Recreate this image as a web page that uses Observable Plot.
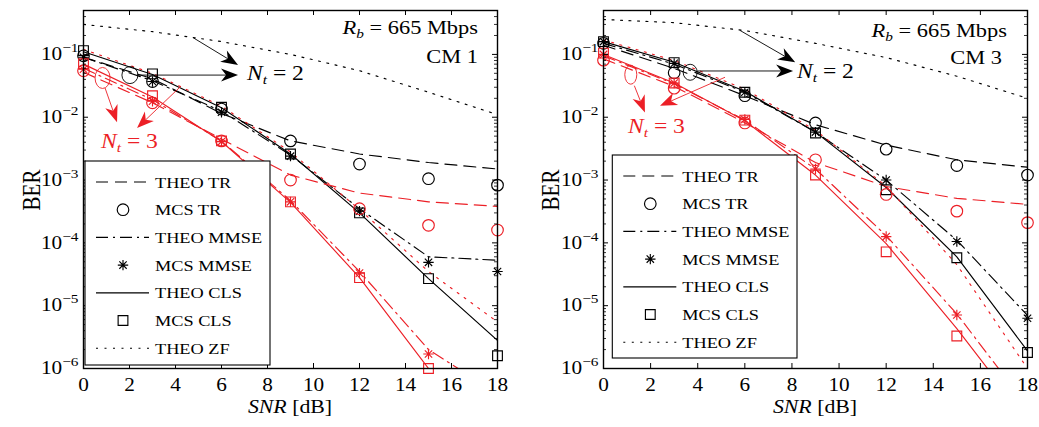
<!DOCTYPE html>
<html>
<head>
<meta charset="utf-8">
<script src="https://cdn.jsdelivr.net/npm/d3@7"></script>
<script src="https://cdn.jsdelivr.net/npm/@observablehq/plot@0.6"></script>
<style>
  body { margin: 0; background: #fff; }
  #row { display: flex; width: 1039px; height: 427px; }
  #row svg { display: block; }
</style>
</head>
<body>
<div id="row"></div>
<script>
// SNR grid of the simulated / analytical points (dB)
const snr = [0, 3, 6, 9, 12, 15, 18];
const xTicks = [0, 2, 4, 6, 8, 10, 12, 14, 16, 18];
const yTicks = [1e-6, 1e-5, 1e-4, 1e-3, 1e-2, 1e-1];

// ---- CM 1, Nt = 2 ----
const cm1Nt2TheoTR   = [0.09, 0.041, 0.0115, 0.0042, 0.0026, 0.0019, 0.0015];
const cm1Nt2McsTR    = [0.095, 0.037, 0.0135, 0.0042, 0.0018, 0.00105, 0.00083];
const cm1Nt2TheoMMSE = [0.09, 0.038, 0.0125, 0.0025, 3.5e-4, 6.0e-5, 5.3e-5];
const cm1Nt2McsMMSE  = [0.09, 0.037, 0.012, 0.0024, 3.2e-4, 4.9e-5, 3.5e-5];
const cm1Nt2TheoCLS  = [0.11, 0.048, 0.0142, 0.0026, 3.0e-4, 2.7e-5, 2.8e-6];
const cm1Nt2McsCLS   = [0.115, 0.049, 0.0144, 0.0026, 3.0e-4, 2.7e-5, 1.6e-6];
const cm1Nt2TheoZF   = [0.30, 0.23, 0.16, 0.10, 0.055, 0.025, 0.011];
// ---- CM 1, Nt = 3 ----
const cm1Nt3TheoTR   = [0.052, 0.017, 0.0045, 0.0012, 6.2e-4, 4.5e-4, 3.8e-4];
const cm1Nt3McsTR    = [0.055, 0.017, 0.0042, 1.0e-3, 3.5e-4, 1.9e-4, 1.6e-4];
const cm1Nt3TheoMMSE = [0.06, 0.019, 0.0042, 4.7e-4, 3.5e-5, 2.0e-6, 4e-7];
const cm1Nt3McsMMSE  = [0.058, 0.018, 0.0041, 4.5e-4, 3.3e-5, 1.7e-6];
const cm1Nt3TheoCLS  = [0.07, 0.021, 0.0041, 4.4e-4, 2.8e-5, 1.0e-6];
const cm1Nt3McsCLS   = [0.071, 0.022, 0.0042, 4.5e-4, 2.8e-5, 1.0e-6];
const cm1Nt3TheoZF   = [0.12, 0.05, 0.015, 0.0028, 3.4e-4, 3.5e-5, 5.5e-6];

// ---- CM 3, Nt = 2 ----
const cm3Nt2TheoTR   = [0.14, 0.06, 0.022, 0.0076, 0.0036, 0.0021, 0.0016];
const cm3Nt2McsTR    = [0.15, 0.051, 0.022, 0.0081, 0.0031, 0.0017, 0.0012];
const cm3Nt2TheoMMSE = [0.15, 0.07, 0.025, 0.0058, 1.0e-3, 1.1e-4, 7e-6];
const cm3Nt2McsMMSE  = [0.16, 0.072, 0.025, 0.0058, 1.0e-3, 1.05e-4, 6.3e-6];
const cm3Nt2TheoCLS  = [0.16, 0.075, 0.026, 0.0058, 7.6e-4, 6e-5, 1.9e-6];
const cm3Nt2McsCLS   = [0.16, 0.074, 0.025, 0.0056, 7e-4, 5.8e-5, 1.8e-6];
const cm3Nt2TheoZF   = [0.36, 0.32, 0.24, 0.15, 0.089, 0.045, 0.020];
// ---- CM 3, Nt = 3 ----
const cm3Nt3TheoTR   = [0.085, 0.031, 0.0082, 0.0019, 7.9e-4, 5.1e-4, 4.1e-4];
const cm3Nt3McsTR    = [0.081, 0.029, 0.0081, 0.0021, 5.9e-4, 3.2e-4, 2.1e-4];
const cm3Nt3TheoMMSE = [0.095, 0.034, 0.009, 0.0015, 1.3e-4, 7.4e-6, 2.5e-7];
const cm3Nt3McsMMSE  = [0.1, 0.035, 0.0092, 0.0015, 1.26e-4, 7.1e-6];
const cm3Nt3TheoCLS  = [0.1, 0.035, 0.0088, 0.0012, 9.7e-5, 4.3e-6, 1.5e-7];
const cm3Nt3McsCLS   = [0.105, 0.035, 0.009, 0.0012, 7.2e-5, 3.3e-6];
const cm3Nt3TheoZF   = [0.17, 0.08, 0.028, 0.0062, 8.0e-4, 4.5e-5, 1.0e-6];

const legendLabels = ["THEO TR", "MCS TR", "THEO MMSE", "MCS MMSE", "THEO CLS", "MCS CLS", "THEO ZF"];

const RED = "#ec1f26", BLACK = "#000";
const FONT = "'Liberation Serif','Times New Roman',serif";
const SX = 1.18; // horizontal glyph stretch of every label

// 8-armed MATLAB-style asterisk
const asterisk = {
  draw(ctx, size) {
    const r = Math.sqrt(size / Math.PI), d = r * Math.SQRT1_2;
    ctx.moveTo(-r, 0); ctx.lineTo(r, 0);
    ctx.moveTo(0, -r); ctx.lineTo(0, r);
    ctx.moveTo(-d, -d); ctx.lineTo(d, d);
    ctx.moveTo(-d, d); ctx.lineTo(d, -d);
  }
};

const lineStyles = {
  TR: "12,7",
  MMSE: "12,5,2,5",
  CLS: null,
  ZF: "2,6.5"
};
const markerStyles = {
  TR: {symbol: "circle", r: 5.8},
  MMSE: {symbol: asterisk, r: 5.2},
  CLS: {symbol: "square", r: 5.5}
};

const rows = (values) => values.map((v, i) => ({snr: snr[i], ber: v}));

const panels = [
  {
    width: 520, marginRight: 23, channel: "CM 1",
    theo: {
      2: {TR: cm1Nt2TheoTR, MMSE: cm1Nt2TheoMMSE, CLS: cm1Nt2TheoCLS, ZF: cm1Nt2TheoZF},
      3: {TR: cm1Nt3TheoTR, MMSE: cm1Nt3TheoMMSE, CLS: cm1Nt3TheoCLS, ZF: cm1Nt3TheoZF}
    },
    mcs: {
      2: {TR: cm1Nt2McsTR, MMSE: cm1Nt2McsMMSE, CLS: cm1Nt2McsCLS},
      3: {TR: cm1Nt3McsTR, MMSE: cm1Nt3McsMMSE, CLS: cm1Nt3McsCLS}
    },
    // annotation geometry: ellipses / arrows in data units
    ellipses: [
      {x: 2.04, y: 0.046, rx: 8, ry: 8.5, color: BLACK},
      {x: 0.85, y: 0.0414, rx: 7.5, ry: 10.5, color: RED}
    ],
    arrows: [
      {x1: 2.35, y1: 0.046, x2: 6.74, y2: 0.046, color: BLACK},
      {x1: 4.78, y1: 0.182, x2: 6.74, y2: 0.0667, color: BLACK},
      {x1: 0.96, y1: 0.0286, x2: 1.48, y2: 0.0082, color: RED},
      {x1: 4.22, y1: 0.0297, x2: 2.35, y2: 0.0066, color: RED}
    ],
    text: {rb: [478, 34], cm: [478, 63], nt2: [247, 80], nt3: [101, 148], ber: [40, 190], snr: [290, 413]},
    legend: {x: 85, y: 161, w: 185, h: 204}
  },
  {
    width: 519, marginRight: 12, channel: "CM 3",
    theo: {
      2: {TR: cm3Nt2TheoTR, MMSE: cm3Nt2TheoMMSE, CLS: cm3Nt2TheoCLS, ZF: cm3Nt2TheoZF},
      3: {TR: cm3Nt3TheoTR, MMSE: cm3Nt3TheoMMSE, CLS: cm3Nt3TheoCLS, ZF: cm3Nt3TheoZF}
    },
    mcs: {
      2: {TR: cm3Nt2McsTR, MMSE: cm3Nt2McsMMSE, CLS: cm3Nt2McsCLS},
      3: {TR: cm3Nt3McsTR, MMSE: cm3Nt3McsMMSE, CLS: cm3Nt3McsCLS}
    },
    ellipses: [
      {x: 3.70, y: 0.051, rx: 7, ry: 8, color: BLACK},
      {x: 1.18, y: 0.0467, rx: 6, ry: 9.5, color: RED}
    ],
    arrows: [
      {x1: 4.0, y1: 0.0535, x2: 8.07, y2: 0.0535, color: BLACK},
      {x1: 5.82, y1: 0.236, x2: 8.16, y2: 0.0736, color: BLACK},
      {x1: 1.33, y1: 0.0312, x2: 1.78, y2: 0.0117, color: RED},
      {x1: 5.18, y1: 0.0425, x2: 2.42, y2: 0.0149, color: RED}
    ],
    text: {rb: [487, 37], cm: [482, 64], nt2: [277, 78], nt3: [108, 133], ber: [39, 190], snr: [295, 413]},
    legend: {x: 92.3, y: 155, w: 184.7, h: 203}
  }
];

const HEIGHT = 427, MT = 10, MB = 59, ML = 83;
const minorY = [];
for (let e = -6; e <= -1; e++) for (let m = 2; m <= 9; m++) {
  const v = m * Math.pow(10, e);
  if (v <= 0.5) minorY.push(v);
}

// widen a text element about its own anchor, keeping any em offsets intact
function stretch(t, sx) {
  const xa = t.getAttribute("x");
  const x = xa && /^-?[\d.]+$/.test(xa) ? +xa : 0;
  const tr = t.getAttribute("transform") || "";
  t.setAttribute("transform", `${tr} translate(${x},0) scale(${sx},1) translate(${-x},0)`);
}

function addText(g, x, y, parts, {size = 18, anchor = "start", fill = BLACK, rotate = 0} = {}) {
  const t = g.append("text")
    .attr("transform", `translate(${x},${y}) scale(${SX},1)${rotate ? ` rotate(${rotate})` : ""}`)
    .attr("text-anchor", anchor).attr("font-family", FONT)
    .attr("font-size", size).attr("fill", fill);
  for (const p of parts) {
    const s = t.append("tspan").text(p.t);
    if (p.italic) s.attr("font-style", "italic");
    if (p.dy) s.attr("dy", p.dy);
    if (p.size) s.attr("font-size", p.size);
  }
  return t;
}

function drawArrow(g, x1, y1, x2, y2, color) {
  const dx = x2 - x1, dy = y2 - y1, len = Math.hypot(dx, dy);
  const ux = dx / len, uy = dy / len, px = -uy, py = ux;
  const L = 17, W = 6.5, N = 5;
  const bx = x2 - ux * L, by = y2 - uy * L;
  const nx = x2 - ux * (L - N), ny = y2 - uy * (L - N);
  g.append("line").attr("x1", x1).attr("y1", y1).attr("x2", nx).attr("y2", ny)
    .attr("stroke", color).attr("stroke-width", 0.9);
  g.append("path")
    .attr("d", `M${x2},${y2}L${bx + px * W},${by + py * W}L${nx},${ny}L${bx - px * W},${by - py * W}Z`)
    .attr("fill", color);
}

function buildPanel(p) {
  const frameH = HEIGHT - MT - MB, frameW = p.width - ML - p.marginRight;
  const marks = [];
  // curves: Nt = 2 in black, Nt = 3 in red on top
  for (const nt of [2, 3]) {
    const color = nt === 2 ? BLACK : RED;
    for (const m of ["ZF", "TR", "MMSE", "CLS"]) {
      marks.push(Plot.line(rows(p.theo[nt][m]), {
        x: "snr", y: "ber", stroke: color, strokeWidth: 1.15,
        strokeDasharray: lineStyles[m], clip: true
      }));
    }
  }
  for (const nt of [2, 3]) {
    const color = nt === 2 ? BLACK : RED;
    for (const m of ["TR", "MMSE", "CLS"]) {
      marks.push(Plot.dot(rows(p.mcs[nt][m]), {
        x: "snr", y: "ber", symbol: markerStyles[m].symbol, r: markerStyles[m].r,
        fill: "none", stroke: color, strokeWidth: 1.15
      }));
    }
  }
  // box with inward ticks on all four sides
  marks.push(
    Plot.tickX(xTicks, {x: d => d, insetTop: frameH - 5, strokeWidth: 1}),
    Plot.tickX(xTicks, {x: d => d, insetBottom: frameH - 5, strokeWidth: 1}),
    Plot.tickY(yTicks, {y: d => d, insetRight: frameW - 5, strokeWidth: 1}),
    Plot.tickY(yTicks, {y: d => d, insetLeft: frameW - 5, strokeWidth: 1}),
    Plot.tickY(minorY, {y: d => d, insetRight: frameW - 3, strokeWidth: 0.8}),
    Plot.tickY(minorY, {y: d => d, insetLeft: frameW - 3, strokeWidth: 0.8}),
    Plot.frame({stroke: BLACK, strokeWidth: 1.4}),
    Plot.axisX({ticks: xTicks, tickSize: 0, tickPadding: 10, label: null, fontSize: 18}),
    Plot.axisY({ticks: yTicks, tickSize: 0, tickPadding: 5, label: null, fontSize: 18,
      tickFormat: d => String(Math.round(Math.log10(d)))})
  );

  const svg = Plot.plot({
    width: p.width, height: HEIGHT,
    marginLeft: ML, marginRight: p.marginRight, marginTop: MT, marginBottom: MB,
    x: {domain: [0, 18]},
    y: {type: "log", domain: [1e-6, 0.5]},
    style: {fontFamily: FONT, fontSize: "18px", background: "white", color: BLACK},
    marks
  });

  // powers of ten as "10" with a raised exponent
  svg.querySelectorAll('g[aria-label="y-axis tick label"] text').forEach(t => {
    const e = t.textContent.replace("-", "\u2212");
    t.textContent = "";
    const base = document.createElementNS("http://www.w3.org/2000/svg", "tspan");
    base.textContent = "10";
    const sup = document.createElementNS("http://www.w3.org/2000/svg", "tspan");
    sup.textContent = e;
    sup.setAttribute("dy", "-8");
    sup.setAttribute("font-size", "13");
    t.appendChild(base); t.appendChild(sup);
  });
  svg.querySelectorAll("text").forEach(t => stretch(t, SX));

  const xs = svg.scale("x"), ys = svg.scale("y");
  const g = d3.select(svg).append("g");

  for (const e of p.ellipses) {
    g.append("ellipse").attr("cx", xs.apply(e.x)).attr("cy", ys.apply(e.y))
      .attr("rx", e.rx).attr("ry", e.ry).attr("fill", "none")
      .attr("stroke", e.color).attr("stroke-width", 0.9);
  }
  for (const a of p.arrows) {
    drawArrow(g, xs.apply(a.x1), ys.apply(a.y1), xs.apply(a.x2), ys.apply(a.y2), a.color);
  }

  const T = p.text;
  addText(g, T.rb[0], T.rb[1], [
    {t: "R", italic: true}, {t: "b", italic: true, size: 13, dy: 4}, {t: " = 665 Mbps", dy: -4}
  ], {size: 19, anchor: "end"});
  addText(g, T.cm[0], T.cm[1], [{t: p.channel}], {size: 19, anchor: "end"});
  addText(g, T.nt2[0], T.nt2[1], [
    {t: "N", italic: true}, {t: "t", italic: true, size: 13, dy: 4}, {t: " = 2", dy: -4}
  ], {size: 20});
  addText(g, T.nt3[0], T.nt3[1], [
    {t: "N", italic: true}, {t: "t", italic: true, size: 13, dy: 4}, {t: " = 3", dy: -4}
  ], {size: 20, fill: RED});
  addText(g, T.ber[0], T.ber[1], [{t: "BER"}], {size: 21, anchor: "middle", rotate: -90});
  addText(g, T.snr[0], T.snr[1], [{t: "SNR", italic: true}, {t: " [dB]"}], {size: 18.5, anchor: "middle"});

  // legend box
  const L = p.legend;
  const lg = g.append("g");
  lg.append("rect").attr("x", L.x).attr("y", L.y).attr("width", L.w).attr("height", L.h)
    .attr("fill", "#fff").attr("stroke", BLACK).attr("stroke-width", 1.1);
  const keys = ["TR", "TR", "MMSE", "MMSE", "CLS", "CLS", "ZF"];
  legendLabels.forEach((lab, i) => {
    const cy = L.y + 21 + i * 27.7;
    if (lab.startsWith("THEO")) {
      lg.append("line").attr("x1", L.x + 11).attr("x2", L.x + 64).attr("y1", cy).attr("y2", cy)
        .attr("stroke", BLACK).attr("stroke-width", 1.15)
        .attr("stroke-dasharray", lineStyles[keys[i]]);
    } else {
      const ms = markerStyles[keys[i]];
      const type = ms.symbol === "circle" ? d3.symbolCircle : ms.symbol === "square" ? d3.symbolSquare : ms.symbol;
      lg.append("path")
        .attr("transform", `translate(${L.x + 38},${cy})`)
        .attr("d", d3.symbol(type, Math.PI * ms.r * ms.r)())
        .attr("fill", "none").attr("stroke", BLACK).attr("stroke-width", 1.15);
    }
    addText(lg, L.x + 70, cy + 5.5, [{t: lab}], {size: 15.5});
  });

  return svg;
}

const row = document.getElementById("row");
for (const p of panels) row.appendChild(buildPanel(p));
</script>
</body>
</html>
